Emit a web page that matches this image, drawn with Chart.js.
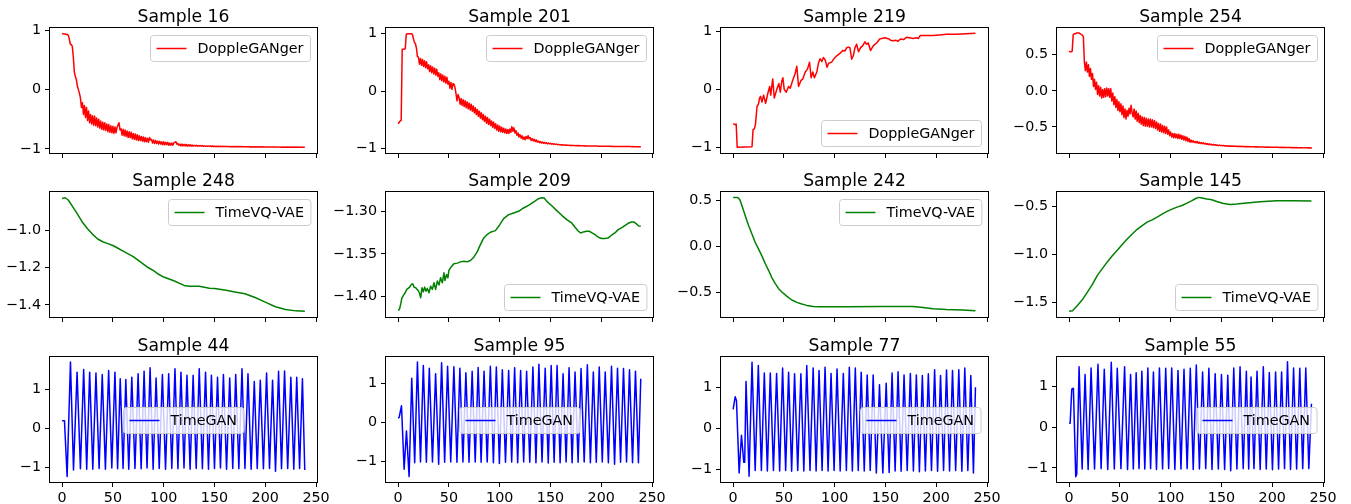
<!DOCTYPE html>
<html>
<head>
<meta charset="utf-8">
<script src="https://cdn.jsdelivr.net/npm/chart.js@4.4.0/dist/chart.umd.min.js"></script>
<style>
  body { margin: 0; background: #fff; width: 1351px; height: 504px; overflow: hidden; position: relative; }
  canvas { position: absolute; }
</style>
</head>
<body>
<script>
// shared x axis
const xTicks = [0, 50, 100, 150, 200, 250];
const xMin = -11.95, xMax = 250.95;

// --- DoppleGANger (one value per step, index = x) ---
const s16 = [
  0.95,0.94,0.94,0.94,0.93,0.93,0.92,0.86,0.77,0.76, 0.73,0.55,0.30,0.22,0.17,0.06,0.00,-0.06,-0.14,-0.30,
  -0.22,-0.42,-0.27,-0.47,-0.30,-0.52,-0.36,-0.56,-0.42,-0.58, -0.44,-0.60,-0.45,-0.61,-0.48,-0.63,-0.50,-0.65,-0.53,-0.67,
  -0.55,-0.68,-0.56,-0.69,-0.58,-0.71,-0.59,-0.72,-0.61,-0.73, -0.62,-0.74,-0.63,-0.73,-0.64,-0.60,-0.56,-0.68,-0.66,-0.77,
  -0.67,-0.78,-0.68,-0.79,-0.70,-0.81,-0.71,-0.81,-0.72,-0.83, -0.74,-0.84,-0.75,-0.85,-0.76,-0.86,-0.78,-0.86,-0.79,-0.87,
  -0.80,-0.88,-0.81,-0.88,-0.82,-0.89,-0.81,-0.85,-0.84,-0.90, -0.85,-0.91,-0.86,-0.91,-0.87,-0.92,-0.87,-0.92,-0.88,-0.93,
  -0.88,-0.93,-0.89,-0.93,-0.89,-0.94,-0.90,-0.94,-0.90,-0.94, -0.90,-0.89,-0.88,-0.92,-0.91,-0.94,-0.92,-0.95,-0.92,-0.95,
  -0.925,-0.95,-0.925,-0.955,-0.93,-0.955,-0.93,-0.955,-0.935,-0.955, -0.94,-0.95,-0.94,-0.955,-0.945,-0.955,-0.945,-0.955,-0.945,-0.958,
  -0.95,-0.958,-0.95,-0.958,-0.95,-0.958,-0.952,-0.96,-0.952,-0.96, -0.955,-0.96,-0.955,-0.96,-0.956,-0.962,-0.956,-0.962,-0.957,-0.962,
  -0.958,-0.962,-0.958,-0.962,-0.959,-0.963,-0.96,-0.963,-0.96,-0.964, -0.961,-0.964,-0.961,-0.965,-0.962,-0.965,-0.962,-0.965,-0.963,-0.966,
  -0.963,-0.966,-0.964,-0.966,-0.964,-0.967,-0.964,-0.967,-0.965,-0.967, -0.965,-0.968,-0.965,-0.968,-0.966,-0.968,-0.966,-0.969,-0.966,-0.969,
  -0.967,-0.969,-0.967,-0.969,-0.967,-0.97,-0.967,-0.97,-0.968,-0.97, -0.968,-0.97,-0.968,-0.971,-0.968,-0.971,-0.969,-0.971,-0.969,-0.971,
  -0.969,-0.971,-0.969,-0.972,-0.97,-0.972,-0.97,-0.972,-0.97,-0.972, -0.97,-0.973,-0.97,-0.973,-0.971,-0.973,-0.971,-0.973,-0.971,-0.973
];
const s201 = [
  -0.57,-0.55,-0.52,-0.51,0.73,0.73,0.73,0.74,0.99,1.00, 1.00,1.00,1.00,1.00,0.99,0.92,0.85,0.83,0.75,0.60,
  0.59,0.47,0.57,0.45,0.55,0.43,0.53,0.41,0.51,0.39, 0.46,0.34,0.44,0.32,0.42,0.30,0.40,0.28,0.38,0.26,
  0.32,0.20,0.30,0.18,0.28,0.16,0.26,0.14,0.24,0.12, 0.17,0.05,0.15,0.03,0.13,0.12,0.06,-0.05,-0.17,-0.06,
  -0.11,-0.23,-0.13,-0.25,-0.15,-0.27,-0.17,-0.29,-0.19,-0.31, -0.21,-0.33,-0.23,-0.35,-0.26,-0.38,-0.29,-0.41,-0.32,-0.44,
  -0.35,-0.47,-0.38,-0.50,-0.41,-0.53,-0.44,-0.56,-0.46,-0.58, -0.49,-0.60,-0.52,-0.63,-0.54,-0.65,-0.57,-0.68,-0.59,-0.70,
  -0.61,-0.71,-0.63,-0.72,-0.65,-0.73,-0.66,-0.74,-0.67,-0.74, -0.66,-0.72,-0.62,-0.70,-0.64,-0.73,-0.69,-0.77,-0.73,-0.80,
  -0.76,-0.82,-0.78,-0.84,-0.80,-0.85,-0.79,-0.83,-0.78,-0.83, -0.81,-0.86,-0.83,-0.87,-0.84,-0.88,-0.85,-0.89,-0.87,-0.90,
  -0.88,-0.905,-0.89,-0.91,-0.895,-0.915,-0.90,-0.92,-0.905,-0.92, -0.91,-0.925,-0.915,-0.93,-0.92,-0.93,-0.925,-0.935,-0.93,-0.935,
  -0.935,-0.94,-0.935,-0.942,-0.94,-0.945,-0.94,-0.947,-0.944,-0.948, -0.946,-0.95,-0.948,-0.951,-0.949,-0.952,-0.95,-0.953,-0.951,-0.954,
  -0.953,-0.955,-0.954,-0.956,-0.955,-0.957,-0.956,-0.958,-0.957,-0.958, -0.958,-0.959,-0.959,-0.96,-0.959,-0.96,-0.96,-0.961,-0.961,-0.962,
  -0.962,-0.962,-0.963,-0.962,-0.963,-0.963,-0.964,-0.963,-0.964,-0.964, -0.965,-0.964,-0.965,-0.965,-0.966,-0.965,-0.966,-0.966,-0.967,-0.966,
  -0.967,-0.967,-0.967,-0.967,-0.968,-0.967,-0.968,-0.968,-0.968,-0.968, -0.969,-0.968,-0.969,-0.969,-0.969,-0.969,-0.97,-0.969,-0.97,-0.97
];
const s219x = [0,1,2,3,4,18.6,19.6,21,22,23.5, 25,26,27,28.4,30,32,34,36,37,39,
  40.5,43,45,46.4,48,49,50.3,52.3,54.6,56.2, 58.5,61,62.7,64.4,66.7,68.6,71,73.2,75.2,76.8,
  78.4,80,82.4,84,85.6,87.3,88.9,90.8,92.5,94, 97,99.3,102,105.2,107.8,110,111.8,113.4,115,116.7,
  118.3,120,121.6,123.5,125.5,127.5,129.7,131.4,133,135.3, 137.9,141.2,144.4,149.3,153.6,154.9,157.5,160.1,162.4,164.7,
  168,170.6,173.9,177.1,180.4,182.4,184.3,190.2,196.7,203.3, 209.8,219.6,229.4,238.6];
const s219y = [-0.6,-0.6,-0.61,-0.6,-1.0,-0.99,-0.7,-0.68,-0.6,-0.3, -0.25,-0.15,-0.12,-0.22,-0.1,-0.24,-0.08,0.05,-0.1,0.18,
  -0.15,0.0,0.1,-0.05,0.15,0.2,0.0,-0.05,0.05,0.02, 0.15,0.27,0.4,0.05,0.15,0.18,0.3,0.35,0.47,0.2,
  0.3,0.2,0.3,0.45,0.53,0.48,0.55,0.5,0.38,0.45, 0.47,0.53,0.58,0.62,0.67,0.66,0.72,0.73,0.72,0.52,
  0.58,0.72,0.78,0.65,0.72,0.75,0.82,0.78,0.8,0.67, 0.75,0.8,0.87,0.89,0.87,0.85,0.84,0.85,0.83,0.87,
  0.86,0.9,0.89,0.88,0.89,0.88,0.93,0.93,0.93,0.94, 0.95,0.95,0.96,0.97];
const s254 = [
  0.55,0.54,0.54,0.55,0.78,0.79,0.79,0.80,0.80,0.80, 0.80,0.79,0.78,0.77,0.75,0.40,0.28,0.40,0.26,0.36,
  0.20,0.31,0.16,0.24,0.06,0.16,0.02,0.12,-0.05,0.07, -0.07,0.05,-0.10,0.02,-0.09,0.03,-0.08,0.04,-0.07,0.03,
  -0.09,0.03,-0.14,-0.03,-0.19,-0.08,-0.23,-0.12,-0.27,-0.15, -0.29,-0.18,-0.33,-0.21,-0.37,-0.25,-0.39,-0.27,-0.35,-0.24,
  -0.32,-0.20,-0.30,-0.36,-0.25,-0.39,-0.28,-0.42,-0.31,-0.44, -0.34,-0.46,-0.36,-0.48,-0.37,-0.49,-0.38,-0.49,-0.39,-0.50,
  -0.39,-0.50,-0.40,-0.51,-0.41,-0.52,-0.43,-0.54,-0.45,-0.56, -0.46,-0.57,-0.48,-0.58,-0.49,-0.59,-0.50,-0.60,-0.54,-0.62,
  -0.57,-0.64,-0.59,-0.65,-0.59,-0.65,-0.60,-0.66,-0.60,-0.66, -0.61,-0.67,-0.62,-0.68,-0.63,-0.69,-0.64,-0.70,-0.66,-0.71,
  -0.68,-0.71,-0.69,-0.715,-0.70,-0.72,-0.70,-0.725,-0.71,-0.73, -0.715,-0.73,-0.72,-0.735,-0.725,-0.74,-0.73,-0.745,-0.735,-0.745,
  -0.74,-0.75,-0.74,-0.752,-0.745,-0.755,-0.75,-0.757,-0.75,-0.758, -0.755,-0.76,-0.755,-0.762,-0.76,-0.765,-0.76,-0.766,-0.763,-0.767,
  -0.763,-0.767,-0.764,-0.768,-0.765,-0.769,-0.766,-0.769,-0.767,-0.77, -0.768,-0.771,-0.769,-0.772,-0.77,-0.773,-0.771,-0.774,-0.772,-0.774,
  -0.773,-0.775,-0.773,-0.776,-0.774,-0.777,-0.775,-0.777,-0.776,-0.778, -0.777,-0.778,-0.777,-0.779,-0.778,-0.78,-0.778,-0.78,-0.779,-0.781,
  -0.779,-0.781,-0.78,-0.782,-0.78,-0.782,-0.781,-0.783,-0.781,-0.783, -0.782,-0.784,-0.782,-0.784,-0.783,-0.785,-0.783,-0.785,-0.784,-0.786,
  -0.784,-0.786,-0.785,-0.787,-0.785,-0.787,-0.786,-0.788,-0.786,-0.788, -0.787,-0.789,-0.787,-0.789,-0.788,-0.79,-0.788,-0.79,-0.789,-0.79
];

// --- TimeVQ-VAE ---
const s248x = [0,3,6,10,15,20,25,30,35,40, 45,50,55,60,65,70,75,80,85,90, 95,100,110,120,125,130,135,140,145,150, 160,170,180,190,200,210,220,230,239];
const s248y = [-0.827,-0.823,-0.835,-0.868,-0.91,-0.955,-0.99,-1.02,-1.045,-1.06, -1.07,-1.08,-1.095,-1.11,-1.125,-1.14,-1.16,-1.18,-1.2,-1.215,
  -1.235,-1.25,-1.27,-1.295,-1.3,-1.3,-1.3,-1.305,-1.31,-1.312, -1.32,-1.33,-1.34,-1.36,-1.385,-1.41,-1.425,-1.432,-1.434];
const s209x = [0,1.3,2.6,3.6,5.2,6.9,8.5,10.8,13.1,14.4, 15.7,17.3,19.6,20.9,22.2,23.5,24.8,26.1,27.5,28.8,
  30.4,32,33.7,35.3,36.9,38.6,40.2,41.8,43.5,45.1, 46.1,47.7,49,50,51.6,54.9,58.2,61.4,64.7,68,
  71.2,74.5,77.8,81,84.3,87.6,90.8,95.8,99,103.9, 108.8,113.7,118.6,123.5,128.4,133.3,138.2,141.5,143.8,146.4,
  151.3,156.2,161.1,166,170.9,174.2,177.5,179.7,182.4,185.6, 188.2,190.5,193.8,197.1,200.3,203.6,206.9,210.1,213.4,216.7,
  219.9,223.2,226.5,229.7,232,234.6,236.9,238.9];
const s209y = [-1.4164,-1.4152,-1.4086,-1.4023,-1.3988,-1.3957,-1.3918,-1.3898,-1.3859,-1.3852, -1.3891,-1.3898,-1.393,-1.3957,-1.4016,-1.3898,-1.3945,-1.3891,-1.3938,-1.3906,
  -1.3957,-1.3879,-1.3918,-1.384,-1.3918,-1.382,-1.3867,-1.3781,-1.384,-1.3723, -1.3813,-1.3742,-1.3781,-1.3695,-1.3664,-1.3617,-1.3609,-1.3594,-1.3586,-1.3594,
  -1.3578,-1.3539,-1.3477,-1.3391,-1.3313,-1.3273,-1.3246,-1.3227,-1.3176,-1.3086, -1.3039,-1.302,-1.3,-1.2961,-1.293,-1.2891,-1.2852,-1.284,-1.2844,-1.2883,
  -1.2934,-1.2992,-1.3047,-1.3098,-1.3137,-1.3188,-1.3234,-1.3254,-1.3242,-1.3234, -1.3234,-1.325,-1.3273,-1.3305,-1.332,-1.332,-1.3313,-1.3281,-1.3254,-1.3215,
  -1.3195,-1.3168,-1.3141,-1.3125,-1.3125,-1.3148,-1.3172,-1.3176];
const s242x = [0,4.6,6.5,8.8,12,15.4,18.6,21.9,25.2,28.4, 31.7,35,38.2,41.5,44.8,48,53,57.8,62.7,67.6, 72.5,79,85.6,95.4,111.8,144.4,177,187,196.7,210, 226,238.6];
const s242y = [0.535,0.535,0.513,0.443,0.333,0.223,0.132,0.04,-0.033,-0.106, -0.19,-0.264,-0.344,-0.407,-0.462,-0.498,-0.546,-0.586,-0.612,-0.63,
  -0.645,-0.656,-0.66,-0.66,-0.66,-0.656,-0.656,-0.667,-0.681,-0.69, -0.696,-0.703];
const s145x = [0,3.3,8.2,13.1,18,22.9,27.8,32.7,37.6,42.5, 47.4,52.3,57.2,62.1,67,71.9,76.8,81.7,86.6,91.5,
  96.4,101.3,106.2,111.1,116,120.9,124.2,127.5,130.7,135.6, 140.5,145.4,152,158.5,165,174.8,187.9,204.2,220.6,238.6];
const s145y = [-1.591,-1.584,-1.531,-1.469,-1.392,-1.311,-1.217,-1.147,-1.077,-1.014, -0.955,-0.895,-0.839,-0.787,-0.738,-0.699,-0.664,-0.64,-0.612,-0.58,
  -0.552,-0.528,-0.507,-0.49,-0.465,-0.44,-0.42,-0.406,-0.413,-0.423, -0.43,-0.448,-0.469,-0.479,-0.476,-0.465,-0.451,-0.441,-0.441,-0.444];

// --- TimeGAN (turning points) ---
const s44x = [0,2.3,4.9,8.2,11.2,14.7,18,21.2,24.2,27.1, 30.2,33.3,36.4,39.5,42.6,45.8,48.9,52,54.6,57.2,
  60,62.7,65.6,68.6,71.7,74.8,77.8,80.7,83.6,86.6, 89.6,92.5,95.6,98.7,101.8,104.9,108,111.1,114,117,
  120,122.9,126,129,132,135,138.1,141.2,144.1,147, 150,153,155.9,158.8,161.9,165,168,170.9,174,177.1,
  180,183,186.1,189.2,192.1,195.1,198.2,201.3,204.2,207.2, 210.1,213.1,216,219,222.1,225.2,228.1,231,233.8,236.6, 238.9];
const s44y = [0.2,0.2,-1.24,1.71,-1.07,1.45,-1.04,1.52,-1.05,1.45, -1.05,1.43,-1.03,1.39,-1.05,1.49,-1.02,1.45,-1.04,1.28,
  -1.03,1.26,-1.05,1.32,-1.03,1.41,-1.04,1.47,-1.02,1.56, -1.05,1.3,-1.03,1.39,-1.05,1.41,-1.03,1.54,-1.04,1.45,
  -1.02,1.37,-1.05,1.37,-1.03,1.54,-1.04,1.45,-1.05,1.37, -1.03,1.32,-1.02,1.39,-1.05,1.3,-1.03,1.39,-1.04,1.54,
  -1.03,1.41,-1.05,1.21,-1.03,1.24,-1.04,1.43,-1.03,1.24, -1.1,1.47,-1.04,1.48,-1.03,1.32,-1.05,1.32,-1.03,1.28, -1.07];
const s95x = [0,1,3.3,5.9,8.2,10.8,13.4,16.3,19,22, 24.8,27.8,30.7,33.8,36.9,39.9,42.8,45.8,48.7,51.8,
  54.9,57.9,60.8,63.8,66.7,69.8,72.9,75.9,78.8,81.7, 84.6,87.7,90.8,93.8,96.7,99.7,102.6,105.7,108.8,111.8,
  114.7,117.7,120.6,123.6,126.5,129.6,132.7,135.7,138.6,141.7, 144.8,147.8,150.7,153.6,156.5,159.5,162.4,165.4,168.3,171.3,
  174.2,177.2,180.1,183.2,186.3,189.3,192.2,195.1,198,201, 203.9,207,210.1,213.1,216,219,221.9,224.9,227.8,230.8,
  233.7,236.6,238.9];
const s95y = [0.11,0.13,0.43,-1.21,-0.22,-1.4,1.14,-1.04,1.56,-1.02, 1.47,-1.03,1.4,-1.02,1.26,-1.08,1.54,-1.03,1.45,-1.02,
  1.44,-1.03,1.4,-1.02,1.28,-1.03,1.32,-1.02,1.42,-1.03, 1.32,-1.02,1.45,-1.04,1.43,-1.06,1.36,-1.03,1.34,-1.02,
  1.41,-1.04,1.34,-1.02,1.32,-1.03,1.43,-1.04,1.5,-1.02, 1.4,-1.05,1.47,-1.03,1.47,-1.04,1.26,-1.02,1.41,-1.04,
  1.3,-1.03,1.39,-1.02,1.49,-1.04,1.3,-1.03,1.43,-1.02, 1.3,-1.04,1.45,-1.08,1.4,-1.03,1.39,-1.02,1.36,-1.04,
  1.32,-1.04,1.13];
const s77x = [0,2,3.3,5.9,8.2,10.5,11.4,12.7,15.7,18.6, 21.7,24.8,27.8,30.7,33.7,36.6,39.7,42.8,45.8,48.7,
  51.7,54.6,57.6,60.5,63.6,66.7,69.6,72.5,75.7,78.8, 81.7,84.6,87.6,90.5,93.5,96.4,99.4,102.3,105.4,108.5,
  111.5,114.4,117.4,120.3,123.2,126.1,129.1,132,135,137.9, 141,144.1,147.4,150.7,153.6,156.5,159.5,162.4,165.4,168.3,
  171.4,174.5,177.5,180.4,183.4,186.3,189.3,192.2,195.3,198.4, 201.3,204.2,207.2,210.1,213.1,216,219.1,222.2,225.2,228.1,
  231.1,234,236.6,238.6];
const s77y = [0.47,0.78,0.68,-1.08,-0.16,-0.82,-0.82,1.15,-1.16,1.62, -1.02,1.54,-1.02,1.36,-1.03,1.36,-1.02,1.35,-1.03,1.48,
  -1.02,1.38,-1.04,1.34,-1.02,1.34,-1.03,1.54,-1.02,1.48, -1.03,1.42,-1.02,1.5,-1.03,1.35,-1.02,1.46,-1.03,1.35,
  -1.02,1.5,-1.03,1.48,-1.02,1.38,-1.03,1.31,-1.02,1.31, -1.08,1.07,-1.08,1.11,-1.07,1.36,-1.03,1.39,-1.04,1.31,
  -1.02,1.35,-1.03,1.31,-1.05,1.3,-1.03,1.34,-1.02,1.44, -1.04,1.3,-1.02,1.43,-1.03,1.42,-1.02,1.44,-1.04,1.48,
  -1.02,1.3,-1.08,1.01];
const s55x = [0,1,2.6,4.2,6.5,7.5,9.8,12.8,15.7,18.7, 21.6,25,28.4,31.5,34.6,38,41.5,44.5,47.4,51,
  54.6,57.5,60.5,63.2,66,68.8,71.6,74.5,77.5,80.2, 83,86,88.9,92,95.1,98,101,104.1,107.2,110.1,
  113.1,116.2,119.3,122.2,125.2,128.3,131.4,134.5,137.6,140.7, 143.8,146.9,150,153.1,156.2,159.1,162.1,165.2,168.3,171.4,
  174.5,176.8,179.1,182,185,188.1,191.2,194.1,197.1,200.2, 203.3,206.2,209.2,212.1,215,218,221,224,227.1,230,
  233,236,238.6];
const s55y = [0.1,0.1,0.94,0.96,-1.22,-1.16,1.49,-1.03,1.3,-1.04, 1.46,-1.03,1.55,-1.02,1.43,-1.04,1.6,-1.03,1.45,-1.02,
  1.49,-1.04,1.3,-1.03,1.34,-1.02,1.38,-1.03,1.46,-1.02, 1.36,-1.04,1.46,-1.03,1.45,-1.02,1.46,-1.04,1.4,-1.03,
  1.43,-1.02,1.45,-1.04,1.53,-1.03,1.36,-1.02,1.45,-1.04, 1.32,-1.03,1.3,-1.04,1.28,-1.07,1.46,-1.03,1.49,-1.02,
  1.38,-1.03,1.24,-1.02,1.38,-1.04,1.49,-1.03,1.35,-1.05, 1.36,-1.03,1.36,-1.02,1.61,-1.04,1.46,-1.03,1.45,-1.02,
  1.46,-1.02,0.58];

const idx = arr => arr.map((y, i) => ({ x: i, y: y }));
const zip = (xs, ys) => xs.map((x, i) => ({ x: x, y: ys[i] }));

const RED = '#ff0000', GREEN = '#008000', BLUE = '#0000ff';
const ticks101 = [-1, 0, 1], lab101 = ['\u22121', '0', '1'];
const tick05 = [-0.5, 0, 0.5], lab05 = ['\u22120.5', '0.0', '0.5'];

const panels = [
  { t: 'Sample 16',  lab: 'DoppleGANger', c: RED, pts: idx(s16), y0: -1.07, y1: 1.04, yt: ticks101, yl: lab101, loc: 'upper right' },
  { t: 'Sample 201', lab: 'DoppleGANger', c: RED, pts: idx(s201), y0: -1.08, y1: 1.10, yt: ticks101, yl: lab101, loc: 'upper right' },
  { t: 'Sample 219', lab: 'DoppleGANger', c: RED, pts: zip(s219x, s219y), y0: -1.10, y1: 1.06, yt: ticks101, yl: lab101, loc: 'lower right' },
  { t: 'Sample 254', lab: 'DoppleGANger', c: RED, pts: idx(s254), y0: -0.86, y1: 0.87, yt: tick05, yl: lab05, loc: 'upper right' },
  { t: 'Sample 248', lab: 'TimeVQ-VAE', c: GREEN, pts: zip(s248x, s248y), y0: -1.465, y1: -0.792, yt: [-1.4, -1.2, -1.0], yl: ['\u22121.4', '\u22121.2', '\u22121.0'], loc: 'upper right' },
  { t: 'Sample 209', lab: 'TimeVQ-VAE', c: GREEN, pts: zip(s209x, s209y), y0: -1.4242, y1: -1.2773, yt: [-1.40, -1.35, -1.30], yl: ['\u22121.40', '\u22121.35', '\u22121.30'], loc: 'lower right' },
  { t: 'Sample 242', lab: 'TimeVQ-VAE', c: GREEN, pts: zip(s242x, s242y), y0: -0.772, y1: 0.595, yt: tick05, yl: lab05, loc: 'upper right' },
  { t: 'Sample 145', lab: 'TimeVQ-VAE', c: GREEN, pts: zip(s145x, s145y), y0: -1.65, y1: -0.35, yt: [-1.5, -1.0, -0.5], yl: ['\u22121.5', '\u22121.0', '\u22120.5'], loc: 'lower right' },
  { t: 'Sample 44', lab: 'TimeGAN', c: BLUE, pts: zip(s44x, s44y), y0: -1.38, y1: 1.84, yt: ticks101, yl: lab101, loc: 'center' },
  { t: 'Sample 95', lab: 'TimeGAN', c: BLUE, pts: zip(s95x, s95y), y0: -1.54, y1: 1.69, yt: ticks101, yl: lab101, loc: 'center' },
  { t: 'Sample 77', lab: 'TimeGAN', c: BLUE, pts: zip(s77x, s77y), y0: -1.30, y1: 1.75, yt: ticks101, yl: lab101, loc: 'center right' },
  { t: 'Sample 55', lab: 'TimeGAN', c: BLUE, pts: zip(s55x, s55y), y0: -1.35, y1: 1.73, yt: ticks101, yl: lab101, loc: 'center right' }
];

// grid geometry (plot boxes)
const colLeft = [50, 386, 721, 1057], rowTop = [28, 192, 357];
const PW = 267, PH = 125;
const YW = 62, TP = 30, RP = 26, XH = 30;
const FONT = '"DejaVu Sans", sans-serif';

// spines, legend box and title
const decor = {
  id: 'decor',
  afterDraw(chart, args, o) {
    const ctx = chart.ctx, a = chart.chartArea;
    ctx.save();
    ctx.strokeStyle = '#000';
    ctx.lineWidth = 1;
    ctx.strokeRect(a.left - 0.5, a.top - 0.5, a.right - a.left + 1, a.bottom - a.top + 1);

    ctx.font = '14.3px ' + FONT;
    const tw = ctx.measureText(o.label).width;
    const bw = tw + 54, bh = 26, gap = 7;
    let bx = a.right - gap - bw, by = a.top + gap;
    if (o.loc === 'lower right') by = a.bottom - gap - bh;
    if (o.loc === 'center' || o.loc === 'center right') by = (a.top + a.bottom) / 2 - bh / 2;
    if (o.loc === 'center') bx = (a.left + a.right) / 2 - bw / 2;
    bx = Math.round(bx) + 0.5; by = Math.round(by) + 0.5;
    ctx.beginPath();
    if (ctx.roundRect) ctx.roundRect(bx, by, bw, bh, 3); else ctx.rect(bx, by, bw, bh);
    ctx.fillStyle = 'rgba(255,255,255,0.8)';
    ctx.fill();
    ctx.strokeStyle = '#cccccc';
    ctx.stroke();
    ctx.beginPath();
    ctx.strokeStyle = o.color;
    ctx.lineWidth = 1.5;
    ctx.moveTo(bx + 6, by + bh / 2);
    ctx.lineTo(bx + 36, by + bh / 2);
    ctx.stroke();
    ctx.fillStyle = '#000';
    ctx.textBaseline = 'middle';
    ctx.textAlign = 'left';
    ctx.fillText(o.label, bx + 47, by + bh / 2 + 0.5);

    ctx.font = '17.2px ' + FONT;
    ctx.textAlign = 'center';
    ctx.textBaseline = 'alphabetic';
    ctx.fillText(o.title, (a.left + a.right) / 2, a.top - 6.5);
    ctx.restore();
  }
};

panels.forEach((p, k) => {
  const row = Math.floor(k / 4), col = k % 4;
  const cv = document.createElement('canvas');
  const w = YW + PW + RP, h = TP + PH + XH;
  cv.width = w; cv.height = h;
  cv.style.left = (colLeft[col] - YW) + 'px';
  cv.style.top = (rowTop[row] - TP) + 'px';
  cv.style.width = w + 'px'; cv.style.height = h + 'px';
  document.body.appendChild(cv);

  new Chart(cv, {
    type: 'line',
    data: { datasets: [{ data: p.pts, borderColor: p.c, borderWidth: 1.5, pointRadius: 0, tension: 0, fill: false, borderJoinStyle: 'round' }] },
    options: {
      responsive: false, animation: false, devicePixelRatio: 1, events: [],
      layout: { padding: { left: 0, top: TP, right: RP, bottom: 0 } },
      scales: {
        x: {
          type: 'linear', min: xMin, max: xMax,
          afterBuildTicks: s => { s.ticks = xTicks.map(v => ({ value: v })); },
          afterFit: s => { s.height = XH; s.paddingLeft = 0; s.paddingRight = 0; },
          grid: { drawOnChartArea: false, drawTicks: true, tickLength: 5, color: '#000', tickColor: '#000', tickWidth: 1 },
          border: { display: false },
          ticks: { display: row === 2, color: '#000', font: { family: FONT, size: 14.3 }, padding: 3, autoSkip: false, maxRotation: 0, minRotation: 0, callback: v => String(v) }
        },
        y: {
          type: 'linear', min: p.y0, max: p.y1,
          afterBuildTicks: s => { s.ticks = p.yt.map(v => ({ value: v })); },
          afterFit: s => { s.width = YW; s.paddingTop = 0; s.paddingBottom = 0; },
          grid: { drawOnChartArea: false, drawTicks: true, tickLength: 5, color: '#000', tickColor: '#000', tickWidth: 1 },
          border: { display: false },
          ticks: { color: '#000', font: { family: FONT, size: 14.3 }, padding: 4, autoSkip: false, callback: v => p.yl[p.yt.indexOf(v)] }
        }
      },
      plugins: {
        legend: { display: false },
        tooltip: { enabled: false },
        title: { display: false },
        decor: { label: p.lab, color: p.c, loc: p.loc, title: p.t }
      }
    },
    plugins: [decor]
  });
});
</script>
</body>
</html>
